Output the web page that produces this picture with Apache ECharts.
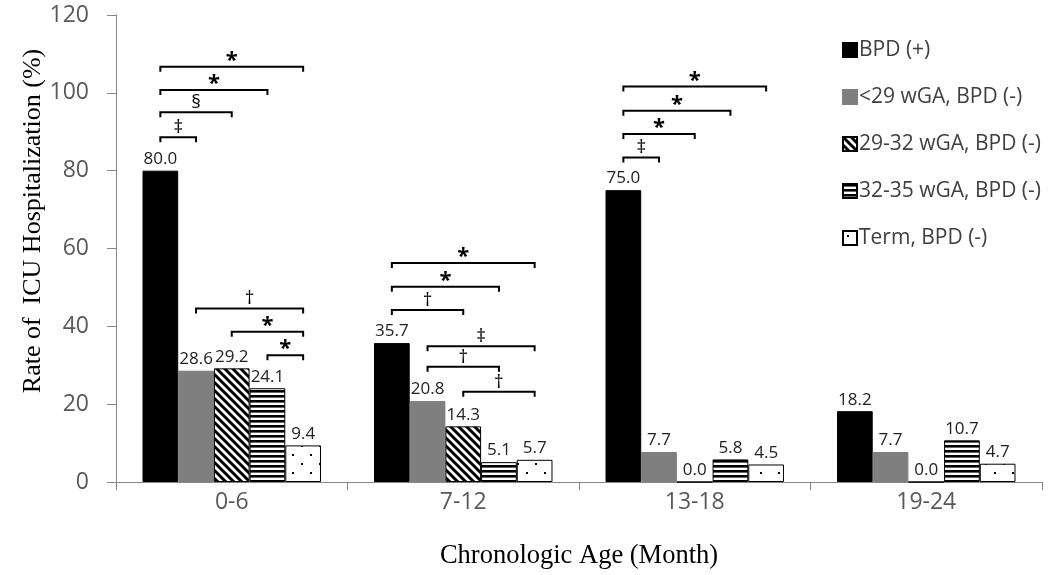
<!DOCTYPE html>
<html>
<head>
<meta charset="utf-8">
<script src="https://cdn.jsdelivr.net/npm/echarts@6/dist/echarts.min.js"></script>
<style>html,body{margin:0;padding:0;background:#fff;}#chart{width:1053px;height:575px;}</style>
</head>
<body>
<div id="chart"></div>
<script>
// ---- data ----
const categories = ['0-6', '7-12', '13-18', '19-24'];
const seriesNames = ['BPD (+)', '<29 wGA, BPD (-)', '29-32 wGA, BPD (-)', '32-35 wGA, BPD (-)', 'Term, BPD (-)'];
const bpdPositive = [80.0, 35.7, 75.0, 18.2];
const under29 = [28.6, 20.8, 7.7, 7.7];
const wga29to32 = [29.2, 14.3, 0.0, 0.0];
const wga32to35 = [24.1, 5.1, 5.8, 10.7];
const term = [9.4, 5.7, 4.5, 4.7];
const yMin = 0, yMax = 120, yInterval = 20;

// significance brackets: category, from-series, to-series, level (%), mark
const bracketCat   = [0, 0, 0, 0, 0, 0, 0,   1, 1, 1, 1, 1, 1,   2, 2, 2, 2];
const bracketFrom  = [0, 0, 0, 0, 1, 2, 3,   0, 0, 0, 1, 1, 2,   0, 0, 0, 0];
const bracketTo    = [1, 2, 3, 4, 4, 4, 4,   4, 3, 2, 4, 3, 4,   4, 3, 2, 1];
const bracketLevel = [88.6, 95.0, 100.7, 106.7, 44.6, 38.6, 32.6,
                      56.3, 50.2, 44.2, 34.9, 29.6, 23.2,
                      101.6, 95.4, 89.4, 83.4];
const bracketMark  = ['‡', '§', '*', '*', '†', '*', '*',
                      '*', '*', '†', '‡', '†', '†',
                      '*', '*', '*', '‡'];

// ---- patterns ----
function makeCanvas(w, h, draw) {
  const c = document.createElement('canvas');
  c.width = w; c.height = h;
  const ctx = c.getContext('2d');
  ctx.fillStyle = '#fff'; ctx.fillRect(0, 0, w, h);
  draw(ctx, w, h);
  return c;
}
const diagCanvas = makeCanvas(8, 8, (ctx, w) => {
  ctx.strokeStyle = '#000'; ctx.lineWidth = 3;
  for (let k = -1; k <= 1; k++) {
    ctx.beginPath(); ctx.moveTo(k * w - 2, -2); ctx.lineTo(k * w + w + 2, w + 2); ctx.stroke();
  }
});
const horizCanvas = makeCanvas(6, 5, (ctx) => { ctx.fillStyle = '#000'; ctx.fillRect(0, 0, 6, 2.6); });
const dotCanvas = makeCanvas(18, 18, (ctx) => {
  ctx.fillStyle = '#000';
  ctx.fillRect(4, 4, 2, 2); ctx.fillRect(13, 13, 2, 2);
});

const fills = [
  '#000000',
  '#7f7f7f',
  { image: diagCanvas, repeat: 'repeat' },
  { image: horizCanvas, repeat: 'repeat' },
  { image: dotCanvas, repeat: 'repeat' }
];
const borders = ['#000', '#7f7f7f', '#000', '#000', '#000'];
const values = [bpdPositive, under29, wga29to32, wga32to35, term];

const CAT_GAP = 0.229;
const FONT = '"Open Sans", "Noto Sans", sans-serif';
const SERIF = '"Liberation Serif", "Times New Roman", serif';

const barSeries = seriesNames.map((name, i) => ({
  name: name,
  type: 'bar',
  data: values[i],
  barGap: '0%',
  barCategoryGap: (CAT_GAP * 100) + '%',
  itemStyle: { color: fills[i], borderColor: borders[i], borderWidth: 1 },
  label: {
    show: true, position: 'top', distance: 3,
    formatter: p => p.value.toFixed(1),
    color: '#222', fontFamily: FONT, fontSize: 17
  },
  emphasis: { disabled: true }
}));

const bracketData = bracketCat.map((c, i) => [c, bracketFrom[i], bracketTo[i], bracketLevel[i]]);

const bracketSeries = {
  name: 'brackets',
  type: 'custom',
  data: bracketData,
  encode: { x: 0, y: 3 },
  silent: true,
  z: 5,
  renderItem: function (params, api) {
    const cat = api.value(0), s1 = api.value(1), s2 = api.value(2), lv = api.value(3);
    const pt = api.coord([cat, lv]);
    const band = api.size([1, 0])[0];
    const barW = band * (1 - CAT_GAP) / 5;
    const x1 = pt[0] + (s1 - 2) * barW;
    const x2 = pt[0] + (s2 - 2) * barW;
    const y = pt[1];
    const mark = bracketMark[params.dataIndex];
    const isStar = mark === '*';
    return {
      type: 'group',
      children: [
        { type: 'polyline', shape: { points: [[x1, y + 5], [x1, y], [x2, y], [x2, y + 5]] },
          style: { stroke: '#000', lineWidth: 2, fill: null } },
        { type: 'text', x: (x1 + x2) / 2, y: isStar ? y - 6 : y,
          style: { text: mark, textAlign: 'center', textVerticalAlign: isStar ? 'middle' : 'bottom',
                   fill: '#000', font: (isStar ? 'bold 22px ' : '19px ') + FONT } }
      ]
    };
  }
};

const chart = echarts.init(document.getElementById('chart'));
chart.setOption({
  animation: false,
  backgroundColor: '#fff',
  grid: { left: 116, right: 11, top: 15, bottom: 93, containLabel: false },
  legend: {
    data: seriesNames,
    orient: 'vertical',
    left: 837, top: 34,
    itemWidth: 14, itemHeight: 14, itemGap: 25,
    icon: 'rect',
    textStyle: { fontFamily: FONT, fontSize: 21, color: '#404040', lineHeight: 22, padding: [0, 0, 0, -3] },
    selectedMode: false
  },
  xAxis: {
    type: 'category',
    data: categories,
    axisLine: { lineStyle: { color: '#868686', width: 1 } },
    axisTick: { show: true, length: 8, lineStyle: { color: '#868686' } },
    axisLabel: { color: '#595959', fontFamily: FONT, fontSize: 23, margin: 9 },
    splitLine: { show: false }
  },
  yAxis: {
    type: 'value',
    min: yMin, max: yMax, interval: yInterval,
    axisLine: { show: true, lineStyle: { color: '#868686', width: 1 } },
    axisTick: { show: true, length: 9, lineStyle: { color: '#868686' } },
    axisLabel: { color: '#595959', fontFamily: FONT, fontSize: 23, margin: 27 },
    splitLine: { show: false }
  },
  graphic: [
    { type: 'text', x: 33, y: 221, rotation: Math.PI / 2,
      style: { text: 'Rate of  ICU Hospitalization (%)', textAlign: 'center', textVerticalAlign: 'middle',
               fill: '#000', font: '26px ' + SERIF } },
    { type: 'text', x: 579, y: 556,
      style: { text: 'Chronologic Age (Month)', textAlign: 'center', textVerticalAlign: 'middle',
               fill: '#000', font: '26.5px ' + SERIF } }
  ],
  series: barSeries.concat([bracketSeries])
});
</script>
</body>
</html>
